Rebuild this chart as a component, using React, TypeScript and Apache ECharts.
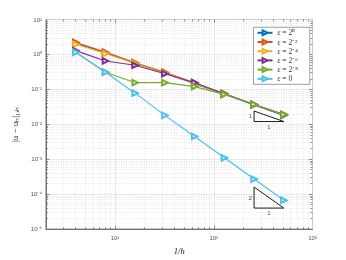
import React, { useEffect, useRef } from "react";
import * as echarts from "echarts";

// ---- data ----
const hInv = [4, 8, 16, 32, 64, 128, 256, 512];
const seriesNames = ["ε = 2⁰", "ε = 2⁻²", "ε = 2⁻⁴", "ε = 2⁻⁶", "ε = 2⁻⁸", "ε = 0"];
const eps0 = [2.1, 1.1, 0.56, 0.29, 0.145, 0.073, 0.036, 0.018];
const epsM2 = [2.2, 1.16, 0.58, 0.31, 0.155, 0.075, 0.037, 0.019];
const epsM4 = [1.95, 1.06, 0.55, 0.29, 0.15, 0.074, 0.037, 0.019];
const epsM6 = [1.28, 0.65, 0.49, 0.28, 0.155, 0.075, 0.037, 0.019];
const epsM8 = [1.16, 0.31, 0.155, 0.155, 0.12, 0.072, 0.037, 0.019];
const epsZero = [1.16, 0.31, 0.078, 0.018, 0.0045, 0.0011, 0.00027, 0.000067];
const seriesValues = [eps0, epsM2, epsM4, epsM6, epsM8, epsZero];
const seriesColors = ["#0072BD", "#D95319", "#EDB120", "#7E2F8E", "#77AC30", "#4DBEEE"];

// slope triangles
const tri1 = [[256, 0.024], [256, 0.012], [512, 0.012], [256, 0.024]];
const tri2 = [[256, 0.00016], [256, 0.00004], [512, 0.00004], [256, 0.00016]];
const triLabels = [
  { value: [256, 0.017], text: "1", pos: "left" },
  { value: [362, 0.012], text: "1", pos: "bottom" },
  { value: [256, 0.00008], text: "2", pos: "left" },
  { value: [362, 0.00004], text: "1", pos: "bottom" },
];

const xMin = 2, xMax = 1000, yMin = 1e-5, yMax = 10;
const xDecades = [1, 10, 100];
const yDecades = [1e-5, 1e-4, 1e-3, 1e-2, 1e-1, 1];
const minorMults = [2, 3, 4, 5, 6, 7, 8, 9];

const sup: Record<string, string> = { "-": "⁻", "0": "⁰", "1": "¹", "2": "²", "3": "³", "4": "⁴", "5": "⁵", "6": "⁶", "7": "⁷", "8": "⁸", "9": "⁹" };
const fmtPow = (v: number) => {
  const e = Math.log10(v);
  const r = Math.round(e);
  if (Math.abs(e - r) > 1e-6) return "";
  return "10" + String(r).split("").map((c) => sup[c]).join("");
};

export default function App() {
  const ref = useRef<HTMLDivElement>(null);
  useEffect(() => {
    if (!ref.current) return;
    const chart = echarts.init(ref.current, null, { renderer: "svg" });

    const xMinor: number[] = [];
    xDecades.forEach((d) => minorMults.forEach((m) => { const v = d * m; if (v > xMin && v < xMax) xMinor.push(v); }));
    const yMinor: number[] = [];
    yDecades.forEach((d) => minorMults.forEach((m) => { const v = d * m; if (v > yMin && v < yMax) yMinor.push(v); }));
    const yMajor = [1e-4, 1e-3, 1e-2, 1e-1, 1];
    const xMajor = [10, 100];

    const gridDot = { color: "#d6d6d6", width: 0.6, type: [1, 1.5] as any };
    const tickCol = "#4d4d4d";
    const kx = Math.pow(10, 2 / 98.5), ky = Math.pow(10, 2 / 35);
    const kx3 = Math.pow(10, 3.5 / 98.5), ky3 = Math.pow(10, 3.5 / 35);

    const markData: any[] = [];
    xMinor.forEach((v) => markData.push([{ coord: [v, yMin], lineStyle: gridDot }, { coord: [v, yMax] }]));
    yMinor.forEach((v) => markData.push([{ coord: [xMin, v], lineStyle: gridDot }, { coord: [xMax, v] }]));
    const tk = { color: tickCol, width: 0.6, type: "solid" as any };
    xMinor.forEach((v) => {
      markData.push([{ coord: [v, yMin], lineStyle: tk }, { coord: [v, yMin * ky] }]);
      markData.push([{ coord: [v, yMax], lineStyle: tk }, { coord: [v, yMax / ky] }]);
    });
    yMinor.forEach((v) => {
      markData.push([{ coord: [xMin, v], lineStyle: tk }, { coord: [xMin * kx, v] }]);
      markData.push([{ coord: [xMax, v], lineStyle: tk }, { coord: [xMax / kx, v] }]);
    });
    xMajor.forEach((v) => {
      markData.push([{ coord: [v, yMin], lineStyle: tk }, { coord: [v, yMin * ky3] }]);
      markData.push([{ coord: [v, yMax], lineStyle: tk }, { coord: [v, yMax / ky3] }]);
    });
    yMajor.forEach((v) => {
      markData.push([{ coord: [xMin, v], lineStyle: tk }, { coord: [xMin * kx3, v] }]);
      markData.push([{ coord: [xMax, v], lineStyle: tk }, { coord: [xMax / kx3, v] }]);
    });

    const dataSeries = seriesValues.map((vals, i) => ({
      name: seriesNames[i],
      type: "line",
      data: hInv.map((x, j) => [x, vals[j]]),
      color: seriesColors[i],
      symbol: "emptyTriangle",
      symbolRotate: -90,
      symbolSize: 5.5,
      showAllSymbol: true,
      lineStyle: { color: seriesColors[i], width: 1.2 },
      itemStyle: { borderColor: seriesColors[i], borderWidth: 0.9 },
      emphasis: { disabled: true },
      z: 3 + i,
      ...(i === 0
        ? {
            markLine: {
              silent: true,
              symbol: "none",
              label: { show: false },
              emphasis: { disabled: true },
              animation: false,
              z: 1,
              data: markData,
            },
          }
        : {}),
    }));

    const triSeries = [tri1, tri2].map((t) => ({
      type: "line",
      data: t,
      symbol: "none",
      lineStyle: { color: "#000", width: 0.9 },
      silent: true,
      z: 10,
    }));

    const labelSeries = {
      type: "scatter",
      symbolSize: 0,
      silent: true,
      z: 11,
      data: triLabels.map((l) => ({
        value: l.value,
        label: {
          show: true,
          formatter: l.text,
          position: l.pos,
          distance: 2,
          fontSize: 6,
          color: "#222",
          fontFamily: "Liberation Sans",
        },
      })),
    };

    const axisLabelStyle = { fontSize: 6, color: "#555", fontFamily: "Liberation Sans" };

    chart.setOption({
      animation: false,
      grid: { left: 46, right: 33.5, top: 19.5, bottom: 29.5, show: true, borderColor: "#555", borderWidth: 0.8 },
      legend: {
        show: true,
        data: seriesNames,
        orient: "vertical",
        left: 253.5,
        top: 27.3,
        padding: [1.5, 12, 1.5, 3],
        itemWidth: 15,
        itemHeight: 6,
        itemGap: 1.2,
        borderColor: "#888",
        borderWidth: 0.8,
        backgroundColor: "#fff",
        formatter: (n: string) => `{i|ε}{n|${n.slice(1)}}`,
        textStyle: {
          fontSize: 7.5,
          lineHeight: 8,
          color: "#333",
          fontFamily: "Liberation Serif",
          rich: {
            i: { fontStyle: "italic", fontSize: 7.5, lineHeight: 8, fontFamily: "Liberation Serif", color: "#333" },
            n: { fontSize: 7.5, lineHeight: 8, fontFamily: "Liberation Serif", color: "#333" },
          },
        },
      },
      xAxis: [
        {
          type: "log",
          logBase: 10,
          min: xMin,
          max: xMax,
          splitNumber: 3,
          name: "1/h",
          nameLocation: "middle",
          nameGap: 7.5,
          nameTextStyle: { fontSize: 8.5, fontFamily: "Liberation Serif", color: "#222", fontStyle: "italic" },
          axisLine: { show: true, lineStyle: { color: "#555", width: 0.8 } },
          axisTick: { show: false },
          axisLabel: { formatter: fmtPow, margin: 6, ...axisLabelStyle },
          splitLine: { show: true, lineStyle: { color: "#e3e3e3", width: 0.8 } },
        },
      ],
      yAxis: [
        {
          type: "log",
          logBase: 10,
          min: yMin,
          max: yMax,
          interval: 1,
          name: "|u − uₕ|₁,ₕ",
          nameLocation: "middle",
          nameGap: 15,
          nameTextStyle: { fontSize: 9, fontFamily: "Liberation Serif", color: "#222" },
          axisLine: { show: true, lineStyle: { color: "#555", width: 0.8 } },
          axisTick: { show: false },
          axisLabel: { formatter: fmtPow, margin: 4, ...axisLabelStyle },
          splitLine: { show: true, lineStyle: { color: "#e3e3e3", width: 0.8 } },
        },
      ],
      series: [...dataSeries, ...triSeries, labelSeries],
    } as any);
    return () => chart.dispose();
  }, []);
  return <div ref={ref} style={{ position: "fixed", left: 0, top: 0, width: 346, height: 260 }} />;
}
